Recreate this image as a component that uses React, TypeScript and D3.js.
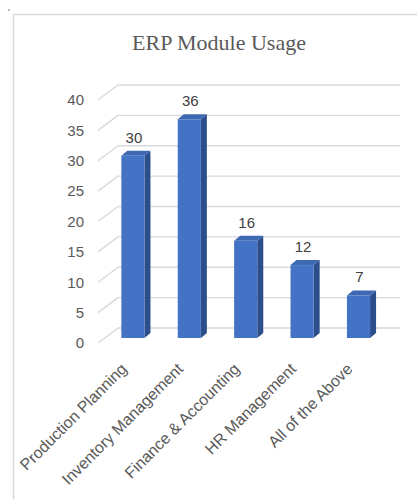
import React, { useEffect, useRef } from 'react';
import * as d3 from 'd3';

// chart data
const categories = ['Production Planning', 'Inventory Management', 'Finance & Accounting', 'HR Management', 'All of the Above'];
const usage = [30, 36, 16, 12, 7];
const yTicks = [0, 5, 10, 15, 20, 25, 30, 35, 40];

const App = () => {
  const ref = useRef<SVGSVGElement>(null);

  useEffect(() => {
    const svg = d3.select(ref.current);
    svg.selectAll('*').remove();

    const W = 417;
    const H = 499;
    svg.attr('width', W).attr('height', H);

    // bar plane scales
    const x = d3.scaleBand<string>()
      .domain(categories)
      .range([104.7, 386.7])
      .paddingInner(0.59)
      .paddingOuter(0.295);

    const y = d3.scaleLinear().domain([0, 40]).range([338, 95]);

    // 3d offsets relative to bar plane
    const front = { dx: -6.7, dy: 5 };
    const back = { dx: 13.3, dy: -10 };
    const depth = { dx: 6, dy: -5 };

    const grid = '#d9d9d9';
    const textCol = '#595959';
    const font = '"Liberation Sans", Arial, sans-serif';

    // chart frame
    svg.append('rect')
      .attr('x', 13.5).attr('y', 14.5)
      .attr('width', W).attr('height', H)
      .attr('fill', 'white')
      .attr('stroke', grid)
      .attr('stroke-width', 1.5);
    svg.append('rect')
      .attr('x', 8).attr('y', 9).attr('width', 2).attr('height', 2)
      .attr('fill', '#bbb');

    // title
    svg.append('text')
      .attr('x', 219).attr('y', 50)
      .attr('text-anchor', 'middle')
      .attr('font-family', '"Liberation Serif", "Times New Roman", serif')
      .attr('font-size', 22)
      .attr('fill', textCol)
      .text('ERP Module Usage');

    const [r0, r1] = x.range();

    // back wall gridlines
    svg.append('g')
      .selectAll('line')
      .data(yTicks)
      .join('line')
      .attr('x1', r0 + back.dx)
      .attr('x2', r1 + back.dx)
      .attr('y1', d => y(d) + back.dy)
      .attr('y2', d => y(d) + back.dy)
      .attr('stroke', grid)
      .attr('stroke-width', 1.3);

    // side wall gridlines
    svg.append('g')
      .selectAll('line')
      .data(yTicks)
      .join('line')
      .attr('x1', r0 + front.dx)
      .attr('y1', d => y(d) + front.dy)
      .attr('x2', r0 + back.dx)
      .attr('y2', d => y(d) + back.dy)
      .attr('stroke', grid)
      .attr('stroke-width', 1.3);

    // y tick labels
    svg.append('g')
      .selectAll('text')
      .data(yTicks)
      .join('text')
      .attr('x', 84)
      .attr('y', d => y(d) + front.dy)
      .attr('dy', '0.35em')
      .attr('text-anchor', 'end')
      .attr('font-family', font)
      .attr('font-size', 15)
      .attr('fill', textCol)
      .text(d => d);

    const bw = x.bandwidth();
    const bars = svg.append('g')
      .selectAll('g')
      .data(usage)
      .join('g');

    // side face
    bars.append('path')
      .attr('d', (d, i) => {
        const x1 = x(categories[i])! + bw;
        const yt = y(d);
        const yb = y(0);
        return `M${x1},${yt}L${x1 + depth.dx},${yt + depth.dy}L${x1 + depth.dx},${yb + depth.dy}L${x1},${yb}Z`;
      })
      .attr('fill', '#2c4e8a');

    // top face
    bars.append('path')
      .attr('d', (d, i) => {
        const x0 = x(categories[i])!;
        const yt = y(d);
        return `M${x0},${yt}L${x0 + bw},${yt}L${x0 + bw + depth.dx},${yt + depth.dy}L${x0 + depth.dx},${yt + depth.dy}Z`;
      })
      .attr('fill', '#3f68b3');

    // front face
    bars.append('rect')
      .attr('x', (d, i) => x(categories[i])!)
      .attr('y', d => y(d))
      .attr('width', bw)
      .attr('height', d => y(0) - y(d))
      .attr('fill', '#4472c4');

    // value labels
    svg.append('g')
      .selectAll('text')
      .data(usage)
      .join('text')
      .attr('x', (d, i) => x(categories[i])! + bw / 2 + 1)
      .attr('y', d => y(d) - 13)
      .attr('text-anchor', 'middle')
      .attr('font-family', font)
      .attr('font-size', 15)
      .attr('fill', '#404040')
      .text(d => d);

    // category labels
    svg.append('g')
      .selectAll('text')
      .data(categories)
      .join('text')
      .attr('transform', d => `translate(${x(d)! + bw / 2 - 9},${366}) rotate(-45)`)
      .attr('dy', '0.35em')
      .attr('text-anchor', 'end')
      .attr('font-family', font)
      .attr('font-size', 16)
      .attr('fill', textCol)
      .text(d => d);
  }, []);

  return (
    <svg ref={ref} style={{ position: 'absolute', left: 0, top: 0 }}></svg>
  );
};

export default App;
